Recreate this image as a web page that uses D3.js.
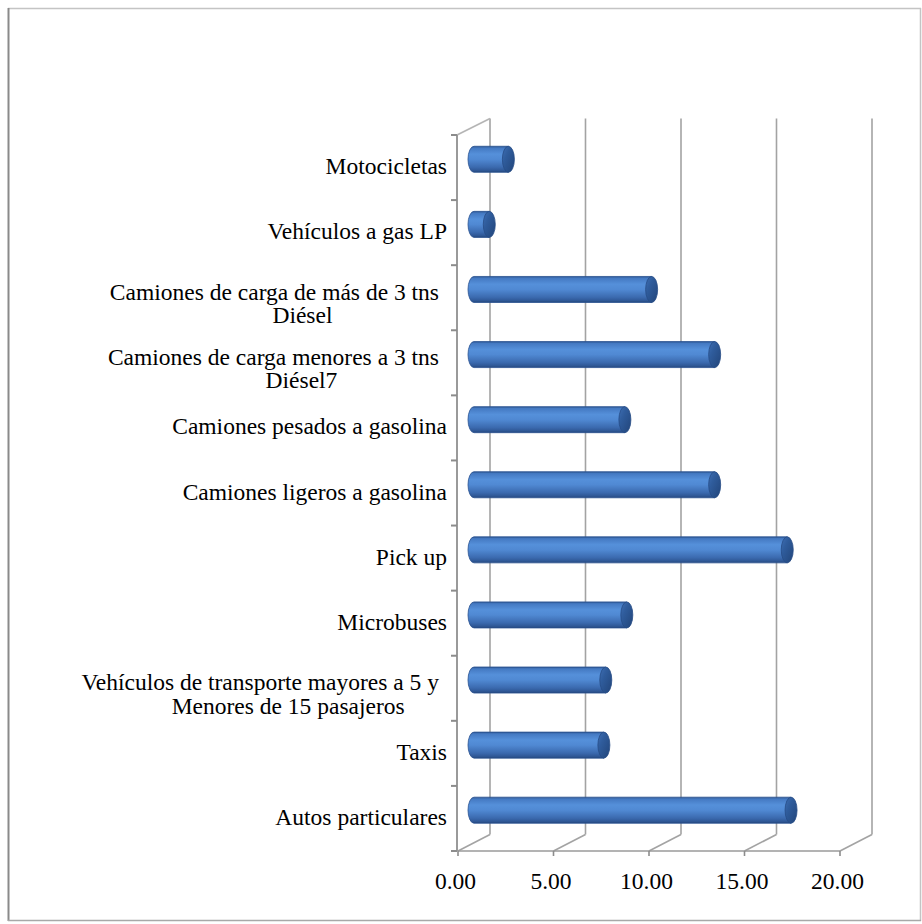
<!DOCTYPE html>
<html>
<head>
<meta charset="utf-8">
<script src="https://cdn.jsdelivr.net/npm/d3@7"></script>
<style>
  html, body { margin: 0; padding: 0; background: #fff; }
  svg { display: block; }
</style>
</head>
<body>
<svg id="chart" width="922" height="924"></svg>
<script>
// Category labels, top to bottom ("\n" marks a wrapped line)
const categories = [
  "Motocicletas",
  "Vehículos a gas LP",
  "Camiones de carga de más de 3 tns\nDiésel",
  "Camiones de carga menores a 3 tns\nDiésel7",
  "Camiones pesados a gasolina",
  "Camiones ligeros a gasolina",
  "Pick up",
  "Microbuses",
  "Vehículos de transporte mayores a 5 y\nMenores de 15 pasajeros",
  "Taxis",
  "Autos particulares"
];

// One value per category
const values = [1.8, 0.8, 9.3, 12.6, 7.9, 12.6, 16.4, 8.0, 6.9, 6.8, 16.6];

// Value axis ticks
const xTicks = [0, 5, 10, 15, 20];
const xTickFormat = d3.format(".2f");

// ---- layout ----
const svg = d3.select("#chart");
const FONT = "'Liberation Serif', 'Times New Roman', serif";
const FONT_SIZE = 23.5;

// front plane of the 3-D box, and the depth offset to its back plane
const x = d3.scaleLinear().domain([0, 20]).range([458, 840]);
const y = d3.scaleBand().domain(categories).range([135, 851]).padding(0);
const depth = { dx: 32, dy: -16.5 };
const barThickness = y.bandwidth() * 0.4;
const capRx = 6;
const wrapShift = 28;

const defs = svg.append("defs");

const bodyGrad = defs.append("linearGradient")
  .attr("id", "cylBody").attr("x1", 0).attr("y1", 0).attr("x2", 0).attr("y2", 1);
[
  [0, "#2d5792"], [0.07, "#4479c2"], [0.3, "#5590da"], [0.5, "#5089d3"],
  [0.8, "#3b6aaf"], [0.93, "#2f5896"], [1, "#25477c"]
].forEach(([o, c]) => bodyGrad.append("stop").attr("offset", o).attr("stop-color", c));

const capGrad = defs.append("linearGradient")
  .attr("id", "cylCap").attr("x1", 0).attr("y1", 0).attr("x2", 1).attr("y2", 1);
[
  [0, "#3f6fb4"], [0.35, "#2f5c9c"], [1, "#22457a"]
].forEach(([o, c]) => capGrad.append("stop").attr("offset", o).attr("stop-color", c));

// ---- outer frame ----
const frame = svg.append("g");
frame.append("line").attr("x1", 8).attr("y1", 8.5).attr("x2", 921).attr("y2", 8.5)
  .attr("stroke", "#c4c4c4").attr("stroke-width", 1.5);
frame.append("line").attr("x1", 8.5).attr("y1", 8).attr("x2", 8.5).attr("y2", 921)
  .attr("stroke", "#8a8a8a").attr("stroke-width", 2);
frame.append("line").attr("x1", 920.5).attr("y1", 8).attr("x2", 920.5).attr("y2", 921)
  .attr("stroke", "#c4c4c4").attr("stroke-width", 1.5);
frame.append("line").attr("x1", 8).attr("y1", 920.5).attr("x2", 921).attr("y2", 920.5)
  .attr("stroke", "#a8a8a8").attr("stroke-width", 1.5);

// ---- 3-D box: back-wall gridlines, floor, left wall ----
const plotTop = y.range()[0], plotBottom = y.range()[1];
const box = svg.append("g").attr("fill", "none").attr("stroke", "#a3a3a3").attr("stroke-width", 1.6);

// vertical gridlines on the back wall
box.selectAll("line.grid").data(xTicks).join("line").attr("class", "grid")
  .attr("x1", d => x(d) + depth.dx).attr("x2", d => x(d) + depth.dx)
  .attr("y1", plotTop + depth.dy).attr("y2", plotBottom + depth.dy);

// floor diagonals from each front tick to the back wall
box.selectAll("line.floor").data(xTicks).join("line").attr("class", "floor")
  .attr("x1", d => x(d)).attr("y1", plotBottom)
  .attr("x2", d => x(d) + depth.dx).attr("y2", plotBottom + depth.dy);

// front floor edge (value axis line)
box.append("line")
  .attr("x1", x(0)).attr("x2", x(20)).attr("y1", plotBottom).attr("y2", plotBottom)
  .attr("stroke", "#9a9a9a");

// left wall top edge
box.append("line")
  .attr("x1", x(0) - 1).attr("y1", plotTop)
  .attr("x2", x(0) + depth.dx).attr("y2", plotTop + depth.dy)
  .attr("stroke", "#b5b5b5");

// category axis (front left edge)
box.append("line")
  .attr("x1", x(0) - 1).attr("x2", x(0) - 1).attr("y1", plotTop).attr("y2", plotBottom)
  .attr("stroke", "#9a9a9a").attr("stroke-width", 2);

// category tick marks at band boundaries
const bounds = categories.map(c => y(c)).concat([plotBottom]);
box.selectAll("line.ytick").data(bounds).join("line").attr("class", "ytick")
  .attr("x1", x(0) - 7).attr("x2", x(0) - 1).attr("y1", d => d).attr("y2", d => d)
  .attr("stroke", "#8c8c8c").attr("stroke-width", 2);

// value tick marks
box.selectAll("line.xtick").data(xTicks).join("line").attr("class", "xtick")
  .attr("x1", d => x(d)).attr("x2", d => x(d)).attr("y1", plotBottom).attr("y2", plotBottom + 5)
  .attr("stroke", "#8c8c8c");

// ---- cylinders ----
const midX = v => x(v) + depth.dx / 2;
const midY = c => y(c) + y.bandwidth() / 2 + depth.dy / 2;
const ry = barThickness / 2;

const bars = svg.append("g").selectAll("g.bar")
  .data(categories.map((c, i) => ({ c, v: values[i] })))
  .join("g").attr("class", "bar");

bars.append("path")
  .attr("d", d => {
    const x0 = midX(0), x1 = midX(d.v), cy = midY(d.c);
    return `M${x0},${cy - ry} L${x1},${cy - ry} L${x1},${cy + ry} L${x0},${cy + ry}` +
           ` A${capRx},${ry} 0 0 1 ${x0},${cy - ry} Z`;
  })
  .attr("fill", "url(#cylBody)")
  .attr("stroke", "#2a5290").attr("stroke-width", 0.8);

bars.append("ellipse")
  .attr("cx", d => midX(d.v)).attr("cy", d => midY(d.c))
  .attr("rx", capRx).attr("ry", ry)
  .attr("fill", "url(#cylCap)")
  .attr("stroke", "#264b85").attr("stroke-width", 0.8);

// ---- category labels ----
const labelEdge = 447;
const lineHeight = 23.5;
const labels = svg.append("g")
  .attr("font-family", FONT).attr("font-size", FONT_SIZE).attr("fill", "#000");

categories.forEach(c => {
  const lines = c.split("\n");
  const cy = y(c) + y.bandwidth() / 2;
  if (lines.length === 1) {
    labels.append("text").attr("x", labelEdge).attr("y", cy + 6.5)
      .attr("text-anchor", "end").text(lines[0]);
  } else {
    const t0 = labels.append("text").attr("x", labelEdge - 8).attr("y", cy + 2)
      .attr("text-anchor", "end").text(lines[0]);
    const w0 = t0.node().getComputedTextLength();
    const center = labelEdge - 8 - w0 / 2;
    lines.slice(1).forEach((ln, k) => {
      labels.append("text").attr("x", center + wrapShift).attr("y", cy + 2 + lineHeight * (k + 1))
        .attr("text-anchor", "middle").text(ln);
    });
  }
});

// ---- value tick labels ----
svg.append("g")
  .attr("font-family", FONT).attr("font-size", FONT_SIZE).attr("fill", "#000")
  .selectAll("text").data(xTicks).join("text")
  .attr("x", d => x(d) - 2.5).attr("y", 889)
  .attr("text-anchor", "middle")
  .text(d => xTickFormat(d));
</script>
</body>
</html>
